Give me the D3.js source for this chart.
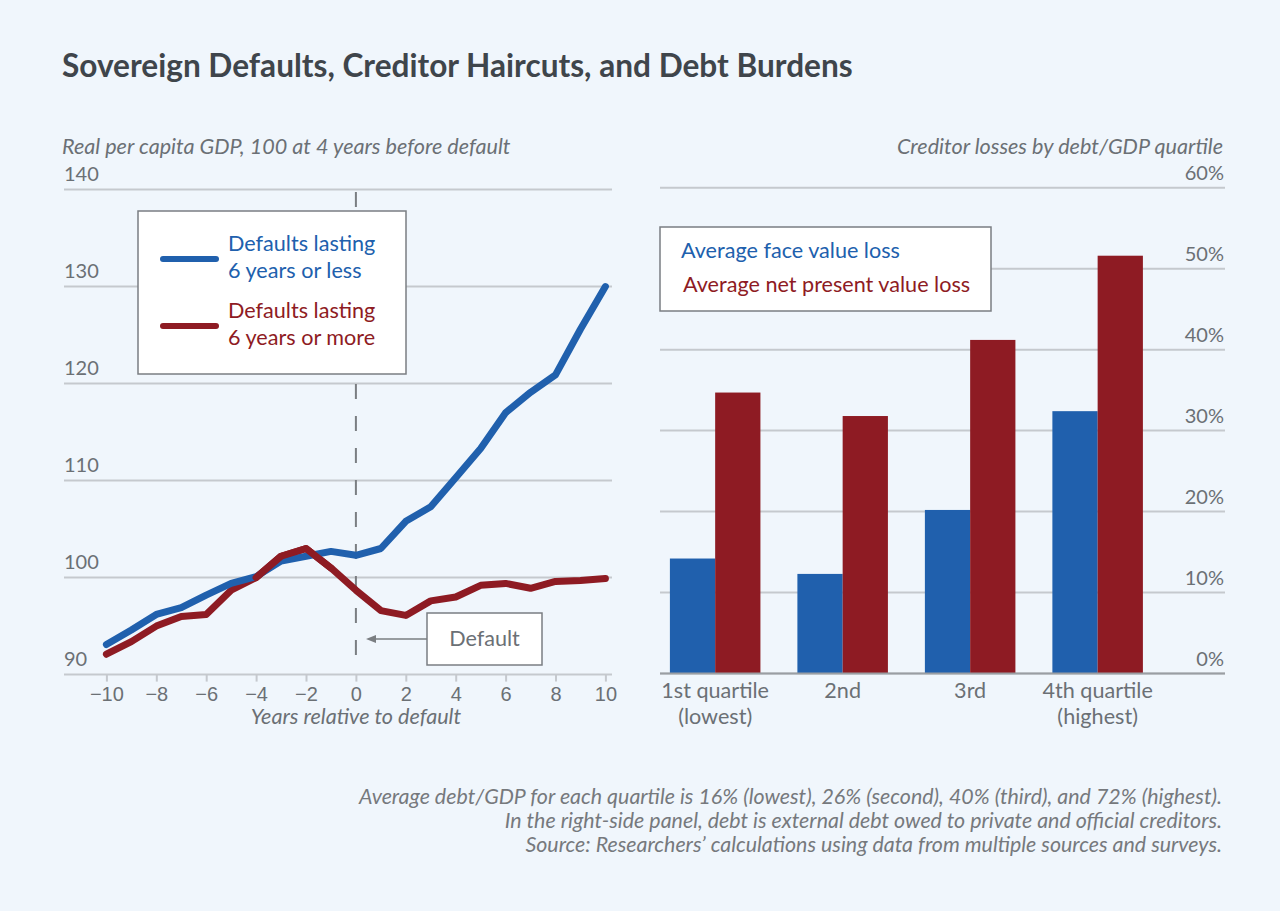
<!DOCTYPE html>
<html><head><meta charset="utf-8">
<script src="https://cdn.jsdelivr.net/npm/d3@7"></script>
<style>
html,body{margin:0;padding:0;background:#f0f6fc;}
svg{display:block;font-family:Lato,"Source Sans Pro","Noto Sans",sans-serif;}
</style></head>
<body>
<svg id="c" width="1280" height="911"></svg>
<script>
// ---- data ----
const years = [-10,-9,-8,-7,-6,-5,-4,-3,-2,-1,0,1,2,3,4,5,6,7,8,9,10];
const shortDefaults = [93.1,94.6,96.2,96.9,98.2,99.4,100.1,101.7,102.2,102.7,102.3,103.0,105.8,107.3,110.3,113.3,117.0,119.1,120.9,125.6,130.0];
const longDefaults  = [92.1,93.4,95.0,96.0,96.2,98.7,100.0,102.2,103.0,101.0,98.7,96.6,96.1,97.6,98.0,99.2,99.4,98.9,99.6,99.7,99.9];
const gdpTicks = [90,100,110,120,130,140];
const yearTicks = [-10,-8,-6,-4,-2,0,2,4,6,8,10];

const quartiles = ["1st quartile\n(lowest)","2nd","3rd","4th quartile\n(highest)"];
const faceValueLoss = [14.2,12.3,20.2,32.4];
const npvLoss = [34.7,31.8,41.2,51.6];
const lossTicks = [0,10,20,30,40,50,60];

const blue = "#2060ad", red = "#8e1b23", grid = "#c5c9ce", tickCol = "#6b7075";
const FS = 21.6;

const svg = d3.select("#c");
svg.append("rect").attr("width",1280).attr("height",911).attr("fill","#f0f6fc");

// title
svg.append("text").attr("x",62).attr("y",77).attr("font-size",31.6).attr("font-weight",700)
  .attr("fill","#3f454b").text("Sovereign Defaults, Creditor Haircuts, and Debt Burdens");

// ---------- LEFT PANEL ----------
const xL = d3.scaleLinear().domain([-10,10]).range([106.4,605.4]);
const yL = d3.scaleLinear().domain([90,140]).range([674.6,189.6]);
const L = svg.append("g");

L.append("text").attr("x",62).attr("y",154).attr("font-size",FS).attr("font-style","italic")
  .attr("fill",tickCol).text("Real per capita GDP, 100 at 4 years before default");

L.selectAll(".gl").data(gdpTicks).join("line")
  .attr("x1",64).attr("x2",612).attr("y1",d=>yL(d)).attr("y2",d=>yL(d))
  .attr("stroke",grid).attr("stroke-width",2);
L.selectAll(".gt").data(gdpTicks).join("text")
  .attr("x",64).attr("y",d=>yL(d)-9).attr("font-size",20).attr("fill",tickCol).text(d=>d);

// x axis
const xAxis = d3.axisBottom(xL).tickValues(yearTicks).tickSize(7).tickPadding(5)
  .tickFormat(d=> d<0 ? "\u2212"+Math.abs(d) : d);
const gx = L.append("g").attr("transform",`translate(0,${yL(90)})`).call(xAxis);
gx.select(".domain").remove();
gx.selectAll(".tick line").attr("stroke",grid).attr("stroke-width",2);
gx.selectAll(".tick text").attr("font-size",20).attr("fill",tickCol).attr("font-family","inherit");

L.append("text").attr("x",xL(0)).attr("y",724).attr("text-anchor","middle").attr("font-size",FS)
  .attr("font-style","italic").attr("fill",tickCol).text("Years relative to default");

// default dashed line
L.append("line").attr("x1",xL(0)).attr("x2",xL(0)).attr("y1",192).attr("y2",665)
  .attr("stroke","#7a7e82").attr("stroke-width",2).attr("stroke-dasharray","15,17");

// lines
const lineGen = d3.line().x((d,i)=>xL(years[i])).y(d=>yL(d));
L.append("path").datum(longDefaults).attr("d",lineGen).attr("fill","none").attr("stroke",red)
  .attr("stroke-width",7).attr("stroke-linejoin","round").attr("stroke-linecap","round");
L.append("path").datum(shortDefaults).attr("d",lineGen).attr("fill","none").attr("stroke",blue)
  .attr("stroke-width",7).attr("stroke-linejoin","round").attr("stroke-linecap","round");
const redTop = d3.line().x((d,i)=>xL(years[i+6])).y(d=>yL(d));
L.append("path").datum(longDefaults.slice(6,10)).attr("d",redTop).attr("fill","none").attr("stroke",red)
  .attr("stroke-width",7).attr("stroke-linejoin","round").attr("stroke-linecap","round");

// legend left
L.append("rect").attr("x",138).attr("y",211).attr("width",268).attr("height",163)
  .attr("fill","#fff").attr("stroke","#7a7e82").attr("stroke-width",1.5);
[[blue,259,["Defaults lasting","6 years or less"]],[red,326,["Defaults lasting","6 years or more"]]].forEach(([c,y,t])=>{
  L.append("line").attr("x1",163).attr("x2",216).attr("y1",y).attr("y2",y)
    .attr("stroke",c).attr("stroke-width",6).attr("stroke-linecap","round");
  L.append("text").attr("x",228).attr("y",y-8).attr("font-size",FS).attr("fill",c).text(t[0]);
  L.append("text").attr("x",228).attr("y",y+19).attr("font-size",FS).attr("fill",c).text(t[1]);
});

// default annotation
L.append("rect").attr("x",427).attr("y",613).attr("width",115).attr("height",52)
  .attr("fill","#fff").attr("stroke","#7a7e82").attr("stroke-width",1.5);
L.append("text").attr("x",484.5).attr("y",646).attr("text-anchor","middle").attr("font-size",FS)
  .attr("fill",tickCol).text("Default");
L.append("line").attr("x1",427).attr("x2",370).attr("y1",639).attr("y2",639)
  .attr("stroke","#7a7e82").attr("stroke-width",1.5);
L.append("path").attr("d","M366,639 L376,635 L376,643 Z").attr("fill","#7a7e82");

// ---------- RIGHT PANEL ----------
const xR = d3.scaleBand().domain(quartiles).range([669.9,1142.9]).paddingInner(0.29).paddingOuter(0);
const xSub = d3.scaleBand().domain(["face","npv"]).range([0,xR.bandwidth()]);
const yR = d3.scaleLinear().domain([0,60]).range([673.5,187.7]);
const R = svg.append("g");

R.append("text").attr("x",1223).attr("y",154).attr("text-anchor","end").attr("font-size",FS)
  .attr("font-style","italic").attr("fill",tickCol).text("Creditor losses by debt/GDP quartile");

R.selectAll(".rg").data(lossTicks).join("line")
  .attr("x1",660).attr("x2",1225).attr("y1",d=>yR(d)).attr("y2",d=>yR(d))
  .attr("stroke",grid).attr("stroke-width",2);
R.selectAll(".rt").data(lossTicks).join("text")
  .attr("x",1224).attr("y",d=>yR(d)-8).attr("text-anchor","end").attr("font-size",20)
  .attr("fill",tickCol).text(d=>d+"%");

const groups = R.selectAll(".grp").data(quartiles).join("g")
  .attr("transform",d=>`translate(${xR(d)},0)`);
groups.append("rect").attr("x",xSub("face")).attr("width",xSub.bandwidth())
  .attr("y",(d,i)=>yR(faceValueLoss[i])).attr("height",(d,i)=>yR(0)-yR(faceValueLoss[i])).attr("fill",blue);
groups.append("rect").attr("x",xSub("npv")).attr("width",xSub.bandwidth())
  .attr("y",(d,i)=>yR(npvLoss[i])).attr("height",(d,i)=>yR(0)-yR(npvLoss[i])).attr("fill",red);
groups.each(function(d){
  const lines = d.split("\n");
  lines.forEach((t,j)=>{
    d3.select(this).append("text").attr("x",xR.bandwidth()/2).attr("y",698+j*26)
      .attr("text-anchor","middle").attr("font-size",FS).attr("fill",tickCol).text(t);
  });
});
// baseline
R.append("line").attr("x1",660).attr("x2",1225).attr("y1",yR(0)).attr("y2",yR(0))
  .attr("stroke","#9a9ea3").attr("stroke-width",2);

// legend right
R.append("rect").attr("x",660).attr("y",227).attr("width",331).attr("height",84)
  .attr("fill","#fff").attr("stroke","#7a7e82").attr("stroke-width",1.5);
R.append("text").attr("x",681).attr("y",258).attr("font-size",FS).attr("fill",blue).text("Average face value loss");
R.append("text").attr("x",683).attr("y",292).attr("font-size",FS).attr("fill",red).text("Average net present value loss");

// footnote
const notes = ["Average debt/GDP for each quartile is 16% (lowest), 26% (second), 40% (third), and 72% (highest).",
  "In the right-side panel, debt is external debt owed to private and official creditors.",
  "Source: Researchers\u2019 calculations using data from multiple sources and surveys."];
svg.selectAll(".note").data(notes).join("text").attr("x",1222).attr("y",(d,i)=>804+i*24)
  .attr("text-anchor","end").attr("font-size",21.4).attr("font-style","italic").attr("fill","#76797d").text(d=>d);
</script>
</body></html>
